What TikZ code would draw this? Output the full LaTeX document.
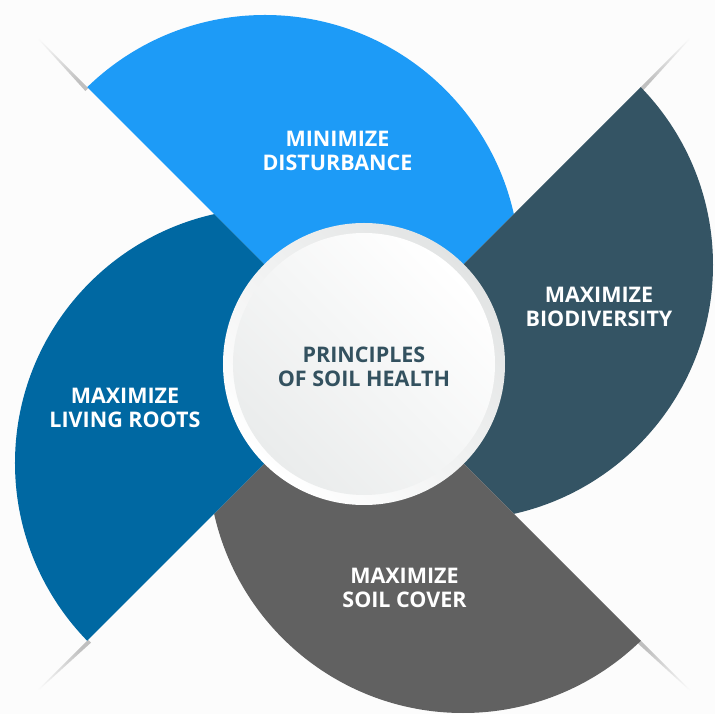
\documentclass[tikz,border=0pt]{standalone}
\usepackage{fontspec}
\setmainfont{Open Sans}
\usetikzlibrary{calc}

\definecolor{soilblue}{HTML}{1D9BF7}
\definecolor{soilnavy}{HTML}{0068A2}
\definecolor{soilslate}{HTML}{345464}
\definecolor{soilgray}{HTML}{616161}
\definecolor{paper}{HTML}{FCFCFC}
\definecolor{ringgray}{HTML}{E2E4E4}
\definecolor{hubgray}{HTML}{EAECEC}
\definecolor{hubtext}{HTML}{33515F}

\tikzset{
	petal label/.style={text=white, align=center, inner sep=0pt,
		font=\bfseries\fontsize{21.5}{24}\selectfont},
}

\begin{document}
\begin{tikzpicture}[x=1pt,y=1pt]
	\coordinate (O) at (0,0);
	\fill[paper] (-364,-350) rectangle (351,364);
	\useasboundingbox (-364,-350) rectangle (351,364);

	% faint shadows running on past the corners
	\foreach \a/\s [evaluate=\a as \sa using \a+90] in {135/1, 45/-1, -45/-1, -135/1} {
		\shade[top color=gray!50, bottom color=paper, shading angle=\sa]
			(\a:390) -- (\a:474) -- ($(\a:390)+(\a+\s*90:4)$) -- cycle;
	};

	% four petals, each a disc cut down to its quarter
	\foreach \a/\c in {0/soilblue, -90/soilslate, -180/soilgray, -270/soilnavy} {
		\begin{scope}[rotate=\a]
			\clip (O) -- (135:600) -- (45:600) -- cycle;
			\fill[\c] (-99,94) circle[radius=255];
		\end{scope}
	};

	% hub
	\shade[top color=ringgray, bottom color=white, shading angle=-45] (O) circle[radius=141];
	\shade[top color=white, bottom color=hubgray, shading angle=-45] (O) circle[radius=131];

	\node[petal label] (disturb) at (-26.5,213.5) {MINIMIZE\\DISTURBANCE};
	\node[petal label] (biodiv) at (235,57) {MAXIMIZE\\BIODIVERSITY};
	\node[petal label] (roots) at (-239,-44) {MAXIMIZE\\LIVING ROOTS};
	\node[petal label] (cover) at (40.5,-224) {MAXIMIZE\\SOIL COVER};
	\node[petal label, text=hubtext] (hub) at (0,-2.5) {PRINCIPLES\\OF SOIL HEALTH};
\end{tikzpicture}
\end{document}
